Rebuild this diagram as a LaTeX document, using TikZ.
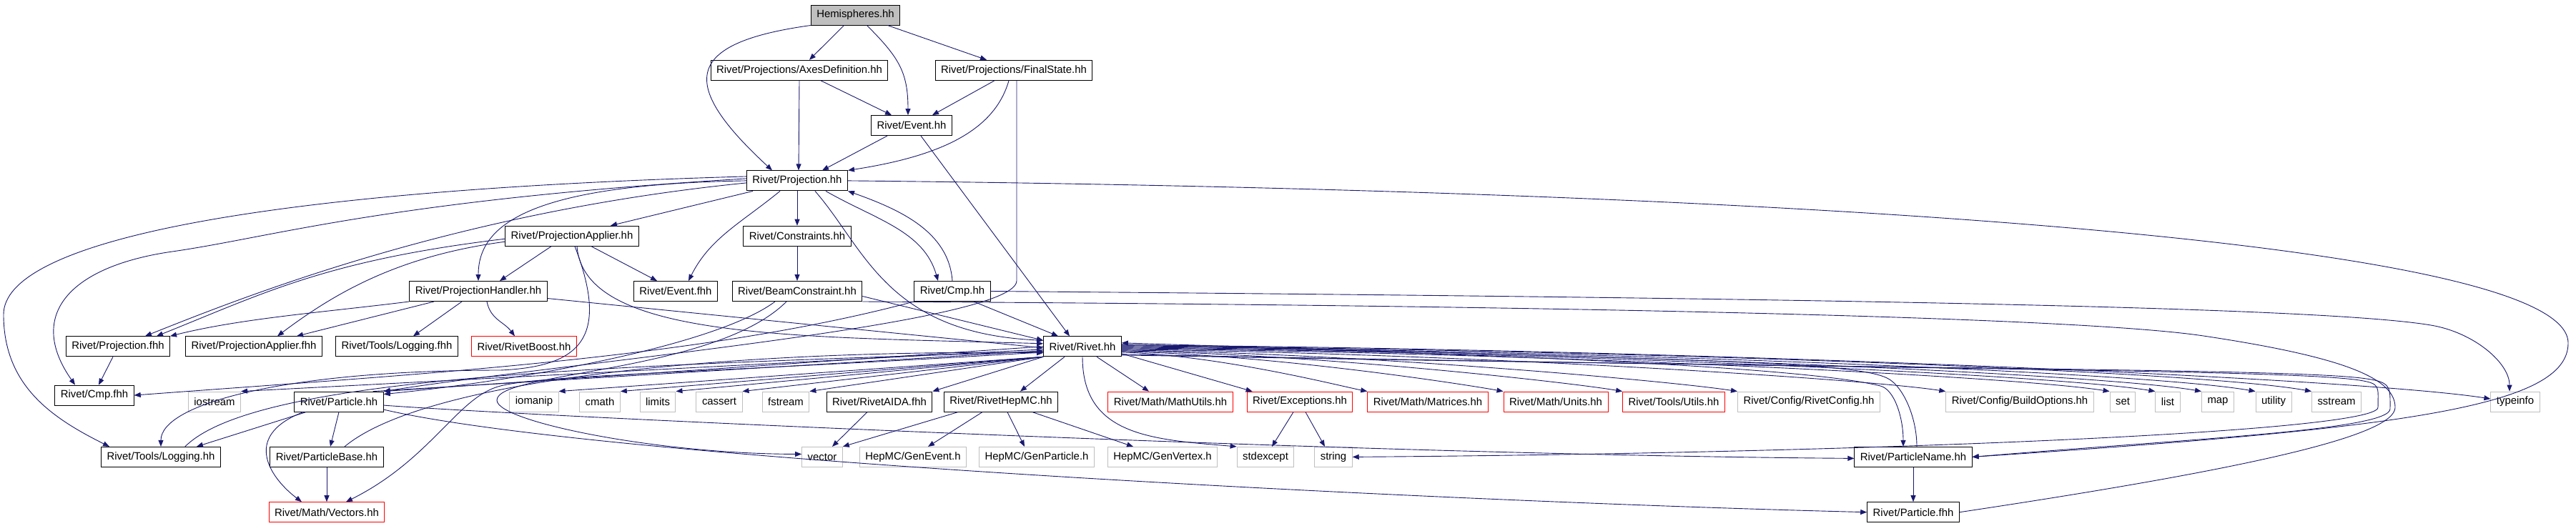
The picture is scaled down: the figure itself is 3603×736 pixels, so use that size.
\documentclass[tikz,border=0pt]{standalone}
\usepackage{fontspec}
\setmainfont{Liberation Sans}
\usepackage{tikz}
\usetikzlibrary{arrows.meta, positioning}
\definecolor{edgeblue}{HTML}{191970}
\definecolor{sysgray}{HTML}{BFBFBF}
\tikzstyle{block} = [rectangle, draw, line width=1pt, text centered, minimum height=28pt, inner xsep=8pt, inner ysep=0pt, font=\fontsize{14.9}{17}\selectfont]
\tikzstyle{rootblock} = [block, fill=sysgray]
\tikzstyle{sysblock} = [block, draw=sysgray]
\tikzstyle{redblock} = [block, draw=red]
\tikzstyle{arrow} = [edgeblue, line width=0.9pt, ->, >={Triangle[length=9pt,width=7pt]}]
\tikzstyle{plainline} = [edgeblue, line width=0.9pt]

\begin{document}
\begin{tikzpicture}[node distance=77.3pt, x=1pt, y=-1pt]
    \useasboundingbox (0,0) rectangle (3603,736);

    % Upper ranks
    \node (hemi) [rootblock] at (1196.5,21) {Hemispheres.hh};
    \node (axes) [block, below of=hemi, xshift=-78.5pt] {Rivet/Projections/AxesDefinition.hh};
    \node (finst) [block, below of=hemi, xshift=221.5pt] {Rivet/Projections/FinalState.hh};
    \node (event) [block, below of=axes, xshift=157pt] {Rivet/Event.hh};
    \node (proj) [block, below of=event, xshift=-160pt] {Rivet/Projection.hh};
    \node (papp) [block, below of=proj, xshift=-315pt] {Rivet/ProjectionApplier.hh};
    \node (constr) [block, below of=proj] {Rivet/Constraints.hh};
    \node (phand) [block, below of=papp, xshift=-131pt] {Rivet/ProjectionHandler.hh};
    \node (evfhh) [block, below of=papp, xshift=145pt] {Rivet/Event.fhh};
    \node (beam) [block, below of=constr] {Rivet/BeamConstraint.hh};
    \node (cmp) [block, below of=constr, xshift=217pt] {Rivet/Cmp.hh};

    % Forward headers and Rivet.hh
    \node (projfhh) [block, below of=phand, xshift=-504pt] {Rivet/Projection.fhh};
    \node (pappfhh) [block, right of=projfhh, xshift=112.7pt] {Rivet/ProjectionApplier.fhh};
    \node (logfhh) [block, right of=pappfhh, xshift=122.7pt] {Rivet/Tools/Logging.fhh};
    \node (boost) [redblock, below of=phand, xshift=64pt] {Rivet/RivetBoost.hh};
    \node (rivet) [block, below of=beam, xshift=399pt] {Rivet/Rivet.hh};

    % Headers included by Rivet.hh
    \node (cmpfhh) [block, below of=projfhh, xshift=-33pt, yshift=9pt] {Rivet/Cmp.fhh};
    \node (iostream) [sysblock, below of=projfhh, xshift=135pt] {iostream};
    \node (particle) [block, right of=iostream, xshift=96.7pt] {Rivet/Particle.hh};
    \node (iomanip) [sysblock, below of=boost, xshift=14pt] {iomanip};
    \node (cmath) [sysblock, right of=iomanip, xshift=14.7pt] {cmath};
    \node (limits) [sysblock, right of=cmath, xshift=3.7pt] {limits};
    \node (cassert) [sysblock, right of=limits, xshift=8.7pt] {cassert};
    \node (fstream) [sysblock, right of=cassert, xshift=15.7pt] {fstream};
    \node (aida) [block, right of=fstream, xshift=53.7pt] {Rivet/RivetAIDA.fhh};
    \node (hepmc) [block, below of=rivet, xshift=-114pt] {Rivet/RivetHepMC.hh};
    \node (mathutils) [redblock, below of=rivet, xshift=123pt] {Rivet/Math/MathUtils.hh};
    \node (except) [redblock, right of=mathutils, xshift=103.7pt] {Rivet/Exceptions.hh};
    \node (matrices) [redblock, right of=except, xshift=101.7pt] {Rivet/Math/Matrices.hh};
    \node (units) [redblock, right of=matrices, xshift=101.7pt] {Rivet/Math/Units.hh};
    \node (utils) [redblock, right of=units, xshift=87.7pt] {Rivet/Tools/Utils.hh};
    \node (rconfig) [sysblock, right of=utils, xshift=111.7pt] {Rivet/Config/RivetConfig.hh};
    \node (build) [sysblock, right of=rconfig, xshift=217.7pt] {Rivet/Config/BuildOptions.hh};
    \node (set) [sysblock, right of=build, xshift=66.7pt] {set};
    \node (list) [sysblock, right of=set, xshift=-14.3pt] {list};
    \node (map) [sysblock, right of=list, xshift=-7.3pt] {map};
    \node (utility) [sysblock, right of=map, xshift=0.7pt] {utility};
    \node (sstream) [sysblock, right of=utility, xshift=10.7pt] {sstream};
    \node (typeinfo) [sysblock, right of=sstream, xshift=172.7pt] {typeinfo};

    % Lower ranks
    \node (logging) [block, below of=iostream, xshift=-75pt] {Rivet/Tools/Logging.hh};
    \node (pbase) [block, below of=particle, xshift=-17pt] {Rivet/ParticleBase.hh};
    \node (vector) [sysblock, below of=fstream, xshift=51pt] {vector};
    \node (genevent) [sysblock, right of=vector, xshift=49.7pt] {HepMC/GenEvent.h};
    \node (genparticle) [sysblock, right of=genevent, xshift=95.7pt] {HepMC/GenParticle.h};
    \node (genvertex) [sysblock, right of=genparticle, xshift=98.7pt] {HepMC/GenVertex.h};
    \node (stdexcept) [sysblock, below of=except, xshift=-48pt] {stdexcept};
    \node (string) [sysblock, right of=stdexcept, xshift=17.7pt] {string};
    \node (pname) [block, below of=rconfig, xshift=146pt] {Rivet/ParticleName.hh};
    \node (vectors) [redblock, below of=pbase] {Rivet/Math/Vectors.hh};
    \node (pfhh) [block, below of=pname] {Rivet/Particle.fhh};

    % ==== Arrows
    % Hemispheres and its projections
    \draw [arrow] ([xshift=-16pt]hemi.south) -- ([xshift=14pt]axes.north);
    \draw [arrow] ([xshift=45pt]hemi.south) -- ([xshift=-38pt]finst.north);
    \draw [arrow] ([xshift=16pt]hemi.south) .. controls +(45,45) and +(0,-60) .. ([xshift=-5pt]event.north);
    \draw [arrow] (hemi.south west) .. controls +(-180,25) and +(-130,-120) .. ([xshift=-35pt]proj.north);
    \draw [arrow] (axes.south) -- ([xshift=2pt]proj.north);
    \draw [arrow] ([xshift=30pt]axes.south) -- ([xshift=-28pt]event.north);
    \draw [arrow] ([xshift=-27pt]finst.south) -- ([xshift=29pt]event.north);
    \draw [arrow] ([xshift=-7pt]finst.south) .. controls +(-20,70) and +(130,-20) .. (proj.north east);
    \draw [arrow] ([xshift=4pt]finst.south) -- ++(0,280) .. controls +(0,60) and +(250,-40) .. (particle.north east);
    \draw [arrow] ([xshift=-34pt]event.south) -- ([xshift=35pt]proj.north);
    \draw [arrow] ([xshift=13pt]event.south) -- ([xshift=-18pt]rivet.north);

    % Projection.hh
    \draw [arrow] ([xshift=-62pt]proj.south) -- ([xshift=54pt]papp.north);
    \draw [arrow] (proj.south) -- (constr.north);
    \draw [arrow] ([xshift=-24pt]proj.south) .. controls +(-55,45) and +(30,-60) .. ([xshift=18pt]evfhh.north);
    \draw [arrow] ([xshift=40pt]proj.south) .. controls +(70,40) and +(-20,-70) .. ([xshift=-20pt]cmp.north);
    \draw [arrow] (cmp.north) .. controls +(-5,-70) and +(70,25) .. (proj.south east);
    \draw [arrow] ([xshift=25pt]proj.south) .. controls +(70,80) and +(-220,-10) .. ([yshift=-6pt]rivet.north west);
    \draw [arrow] (proj.west) .. controls +(-300,5) and +(0,-80) .. (phand.north);
    \draw [arrow] ([yshift=-3pt]proj.west) .. controls +(-400,40) and +(150,-60) .. ([xshift=38pt]projfhh.north);
    \draw [arrow] ([yshift=3pt]proj.west) .. controls +(-500,30) and +(140,-20) .. (241,352) .. controls +(-140,20) and +(-70,-100) .. ([xshift=-27pt]cmpfhh.north);
    \draw [arrow] ([yshift=6pt]proj.west) .. controls +(-700,20) and +(0,-100) .. (5,440) .. controls +(0,100) and +(-80,-40) .. ([xshift=-72pt]logging.north);
    \draw [arrow] (proj.east) .. controls +(1215,12) and +(0,-150) .. (3592,480) .. controls +(0,90) and +(600,-40) .. (pname.east);

    % ProjectionApplier.hh
    \draw [arrow] ([xshift=-29pt]papp.south) -- ([xshift=30pt]phand.north);
    \draw [arrow] ([xshift=27pt]papp.south) -- ([xshift=-26pt]evfhh.north);
    \draw [arrow] ([yshift=-4pt]papp.west) .. controls +(-250,30) and +(150,-60) .. ([xshift=54pt]projfhh.north);
    \draw [arrow] ([yshift=-8pt]papp.west) .. controls +(-150,20) and +(80,-60) .. ([xshift=33pt]pappfhh.north);
    \draw [arrow] ([xshift=7pt]papp.south) .. controls +(10,130) and +(-350,-10) .. ([yshift=4pt]rivet.west);
    \draw [arrow] ([xshift=4pt]papp.south) .. controls +(50,130) and +(110,-5) .. (700,518) .. controls +(-300,0) and +(0,-60) .. (logging.north);

    % ProjectionHandler.hh
    \draw [arrow] (phand.south west) .. controls +(-120,15) and +(100,-25) .. (projfhh.north east);
    \draw [arrow] ([xshift=-62pt]phand.south) -- ([xshift=60pt]pappfhh.north);
    \draw [arrow] ([xshift=-23pt]phand.south) -- ([xshift=23pt]logfhh.north);
    \draw [arrow] ([xshift=12pt]phand.south) .. controls +(5,25) and +(-15,-20) .. ([xshift=-13pt]boost.north);
    \draw [arrow] ([yshift=-10pt]phand.east) -- ([yshift=-2pt]rivet.west);

    % Constraints, BeamConstraint, Cmp
    \draw [arrow] (constr.south) -- (beam.north);
    \draw [arrow] ([yshift=-7pt]beam.east) -- ([yshift=-6pt]rivet.north west);
    \draw [arrow] ([xshift=-31pt]beam.south) .. controls +(-80,60) and +(200,-20) .. ([yshift=-4pt]particle.north east);
    \draw [arrow] ([xshift=-15pt]beam.south) .. controls +(-100,100) and +(0,-40) .. (695,560) .. controls +(0,30) and +(-200,0) .. ([yshift=4pt]vector.west);
    \draw [arrow] ([xshift=30pt]cmp.south) -- ([xshift=-34pt]rivet.north);
    \draw [arrow] (cmp.south west) .. controls +(-300,80) and +(400,-30) .. (cmpfhh.east);
    \draw [arrow] (cmp.east) .. controls +(1200,10) and +(-150,-25) .. (3400,455) .. controls +(60,10) and +(0,-40) .. ([xshift=-8pt]typeinfo.north);
    \draw [plainline] (pfhh.east) .. controls +(400,-60) and +(0,40) .. (3350,570) .. controls +(0,-40) and +(200,30) .. (3082,470) .. controls +(-200,-30) and +(800,4) .. (beam.south east);

    % Rivet.hh, to the left
    \draw [arrow] (rivet.west) -- (particle.north east);
    \draw [arrow] ([yshift=-4pt]rivet.west) -- (iostream.north east);
    \draw [arrow] (rivet.south west) -- (iomanip.north east);
    \draw [arrow] (rivet.south west) -- (cmath.north east);
    \draw [arrow] (rivet.south west) -- (limits.north east);
    \draw [arrow] (rivet.south west) -- (cassert.north east);
    \draw [arrow] (rivet.south west) -- (fstream.north east);
    \draw [arrow] (rivet.south west) -- (aida.north east);
    \draw [arrow] ([yshift=-8pt]rivet.west) .. controls +(-500,30) and +(60,-15) .. (700,540) .. controls +(-60,15) and +(120,-60) .. ([xshift=27pt]vectors.north);
    \draw [arrow] ([xshift=-15pt]particle.north east) -- ([yshift=-6pt]rivet.west);
    \draw [arrow] ([xshift=25pt]pbase.north) .. controls +(120,-100) and +(-400,-5) .. ([yshift=-9pt]rivet.west);
    \draw [arrow] ([xshift=-50pt]logging.north east) .. controls +(100,-100) and +(-600,20) .. ([yshift=-7pt]rivet.west);

    % Rivet.hh, downwards and to the right
    \draw [arrow] ([xshift=-25pt]rivet.south) -- ([xshift=27pt]hepmc.north);
    \draw [arrow] (rivet.south) .. controls +(0,110) and +(-120,-10) .. (stdexcept.north west);
    \draw [arrow] ([xshift=20pt]rivet.south) -- ([xshift=-30pt]mathutils.north);
    \draw [arrow] ([yshift=-10pt]rivet.east) -- ([xshift=8pt]except.north west);
    \draw [arrow] ([yshift=-8pt]rivet.east) .. controls +(140,5) and +(-40,-8) .. (matrices.north west);
    \draw [arrow] ([yshift=-7pt]rivet.east) .. controls +(215,5) and +(-55,-10) .. (units.north west);
    \draw [arrow] ([yshift=-6pt]rivet.east) .. controls +(280,5) and +(-70,-12) .. (utils.north west);
    \draw [arrow] ([yshift=-5pt]rivet.east) .. controls +(345,5) and +(-90,-14) .. (rconfig.north west);
    \draw [arrow] ([yshift=-4pt]rivet.east) .. controls +(460,5) and +(-115,-18) .. (build.north west);
    \draw [arrow] ([yshift=-3pt]rivet.east) .. controls +(550,5) and +(-140,-22) .. (set.north west);
    \draw [arrow] ([yshift=-2pt]rivet.east) .. controls +(580,5) and +(-145,-24) .. (list.north west);
    \draw [arrow] ([yshift=-1pt]rivet.east) .. controls +(600,5) and +(-150,-26) .. (map.north west);
    \draw [arrow] (rivet.east) .. controls +(630,5) and +(-160,-28) .. (utility.north west);
    \draw [arrow] ([yshift=1pt]rivet.east) .. controls +(660,5) and +(-165,-30) .. (sstream.north west);
    \draw [arrow] ([yshift=2pt]rivet.east) .. controls +(760,5) and +(-190,-30) .. ([yshift=4pt]typeinfo.west);
    \draw [arrow] ([yshift=3pt]rivet.east) .. controls +(800,20) and +(-60,-15) .. (2630,540) .. controls +(20,5) and +(0,-40) .. ([xshift=-14pt]pname.north);
    \draw [arrow] ([xshift=5pt]pname.north) .. controls +(0,-40) and +(20,13) .. (2643,531) .. controls +(-40,-26) and +(800,25) .. ([yshift=5pt]rivet.east);
    \draw [arrow] ([yshift=-12pt]rivet.east) .. controls +(1100,20) and +(-100,-15) .. (3300,532) .. controls +(30,5) and +(0,-30) .. (3326,570) .. controls +(0,35) and +(700,-5) .. (string.east);
    \draw [arrow] ([yshift=-11pt]rivet.east) .. controls +(1100,22) and +(-100,-15) .. (3310,530) .. controls +(35,5) and +(0,-30) .. (3343,572) .. controls +(0,30) and +(300,-25) .. (pname.east);

    % Particle and friends
    \draw [arrow] ([xshift=-46pt]particle.south) -- ([xshift=50pt]logging.north);
    \draw [arrow] (particle.south) -- ([xshift=5pt]pbase.north);
    \draw [arrow] ([xshift=-50pt]particle.south) .. controls +(-90,35) and +(-40,-30) .. ([xshift=-35pt]vectors.north);
    \draw [arrow] ([yshift=-5pt]particle.east) .. controls +(200,15) and +(-700,-5) .. ([yshift=-2pt]pname.west);
    \draw [arrow] ([yshift=-11pt]particle.east) .. controls +(300,70) and +(-600,-15) .. (pfhh.west);
    \draw [arrow] (pbase.south) -- (vectors.north);
    \draw [arrow] ([xshift=-7pt]projfhh.south) -- ([xshift=6pt]cmpfhh.north);
    \draw [arrow] (pname.south) -- (pfhh.north);

    % HepMC, AIDA, Exceptions
    \draw [arrow] ([xshift=-17pt]aida.south) -- ([xshift=14pt]vector.north);
    \draw [arrow] ([xshift=20pt]hepmc.south west) -- (vector.north east);
    \draw [arrow] ([xshift=-26pt]hepmc.south) -- ([xshift=21pt]genevent.north);
    \draw [arrow] ([xshift=9pt]hepmc.south) -- ([xshift=-17pt]genparticle.north);
    \draw [arrow] ([xshift=44pt]hepmc.south) -- ([xshift=-41pt]genvertex.north);
    \draw [arrow] ([xshift=-9pt]except.south) -- ([xshift=9pt]stdexcept.north);
    \draw [arrow] ([xshift=8pt]except.south) -- ([xshift=-12pt]string.north);

\end{tikzpicture}
\end{document}
